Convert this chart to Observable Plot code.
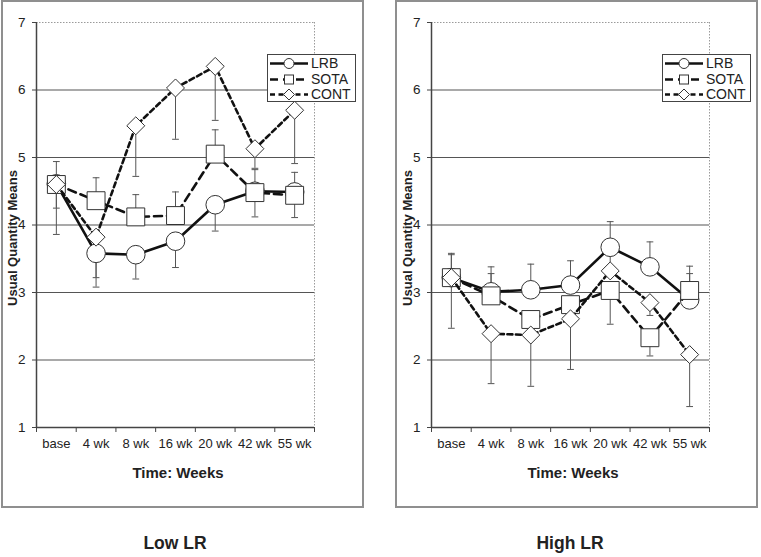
<!DOCTYPE html>
<html><head><meta charset="utf-8">
<script src="https://cdn.jsdelivr.net/npm/d3@7"></script>
<script src="https://cdn.jsdelivr.net/npm/@observablehq/plot@0.6"></script>
<style>
body{margin:0;background:#fff;font-family:"Liberation Sans",Arial,sans-serif;color:#222;}
#wrap{position:relative;width:761px;height:557px;overflow:hidden;background:#fff;}
.panel{position:absolute;top:0;width:359px;height:504px;border:2px solid #8f8f8f;box-sizing:content-box;}
.plot{position:absolute;top:0;}
.ytitle{position:absolute;font-weight:bold;font-size:13px;white-space:nowrap;transform:translate(-50%,-50%) rotate(-90deg);}
.xtitle{position:absolute;font-weight:bold;font-size:15px;white-space:nowrap;transform:translate(-50%,-50%);}
.ptitle{position:absolute;font-weight:bold;font-size:17.5px;white-space:nowrap;transform:translate(-50%,-50%);}
.legend{position:absolute;width:87px;height:46px;border:1px solid #444;background:#fff;}
.lrow{position:absolute;left:0;height:15px;width:87px;}
.lrow svg{position:absolute;left:2px;top:0;}
.lrow span{position:absolute;left:43px;top:0;font-size:14px;line-height:15px;}
</style></head>
<body><div id="wrap"></div>
<script>
const cats = ["base", "4 wk", "8 wk", "16 wk", "20 wk", "42 wk", "55 wk"];
const seriesNames = ["LRB", "SOTA", "CONT"];
const yTicks = [1, 2, 3, 4, 5, 6, 7];
const gridValues = [2, 3, 4, 5, 6];

// Low LR panel: means and error-bar end values
const lowLRB      = [4.61, 3.58, 3.56, 3.76, 4.30, 4.50, 4.49];
const lowLRBEnd   = [3.86, 3.08, 3.20, 3.37, 3.91, 4.12, 4.11];
const lowSOTA     = [4.60, 4.36, 4.12, 4.14, 5.05, 4.48, 4.44];
const lowSOTAEnd  = [4.94, 4.70, 4.45, 4.49, 5.41, 4.82, 4.78];
const lowCONT     = [4.60, 3.82, 5.47, 6.03, 6.35, 5.13, 5.70];
const lowCONTEnd  = [4.25, 3.22, 4.72, 5.27, 5.55, 4.84, 4.91];

// High LR panel
const highLRB     = [3.22, 3.01, 3.04, 3.11, 3.67, 3.38, 2.89];
const highLRBEnd  = [3.58, 3.38, 3.42, 3.47, 4.05, 3.75, 3.28];
const highSOTA    = [3.22, 2.95, 2.60, 2.82, 3.03, 2.33, 3.03];
const highSOTAEnd = [3.56, 3.28, 2.30, 2.55, 2.53, 2.06, 3.39];
const highCONT    = [3.22, 2.39, 2.37, 2.61, 3.32, 2.85, 2.08];
const highCONTEnd = [2.47, 1.65, 1.61, 1.86, 3.60, 2.66, 1.31];

const styles = {
  LRB:  {symbol: "circle",   r: 9.3,  dash: null},
  SOTA: {symbol: "square",   r: 10.1, dash: "8,5"},
  CONT: {symbol: "diamond2", r: 8.1,  dash: "5,3.5"}
};

function rows(name, means, ends) {
  return means.map((m, i) => ({series: name, cat: cats[i], x: i + 0.5, mean: m, end: ends[i]}));
}

function makePlot(groups) {
  const all = groups.flat();
  const marks = [
    Plot.ruleY(gridValues, {stroke: "#555", strokeWidth: 1.2}),
    Plot.ruleY([7], {stroke: "#9a9a9a", strokeDasharray: "1.5,1.5"}),
    Plot.ruleX([cats.length], {stroke: "#9a9a9a", strokeDasharray: "1.5,1.5"}),
    Plot.axisY({ticks: yTicks, tickSize: 4, tickPadding: 7, tickFormat: d => String(d), label: null, stroke: "#444", fontSize: 13.5}),
    Plot.axisX({ticks: d3.range(cats.length + 1), tickSize: 5, tickFormat: () => "", label: null, stroke: "#444"}),
    Plot.axisX({ticks: cats.map((c, i) => i + 0.5), tickSize: 0, tickPadding: 11, tickFormat: d => cats[Math.round(d - 0.5)], label: null, fontSize: 13}),
    Plot.ruleX([0], {stroke: "#444", strokeWidth: 1.5}),
    Plot.ruleY([1], {stroke: "#444", strokeWidth: 1.5}),
    Plot.ruleX(all, {x: "x", y1: "mean", y2: "end", stroke: "#555", strokeWidth: 1}),
    Plot.link(all, {x1: d => d.x - 0.085, x2: d => d.x + 0.085, y1: "end", y2: "end", stroke: "#555", strokeWidth: 1})
  ];
  for (const g of groups) {
    const s = styles[g[0].series];
    marks.push(Plot.line(g, {x: "x", y: "mean", stroke: "#111", strokeWidth: 2.6, strokeDasharray: s.dash || undefined}));
    marks.push(Plot.dot(g, {x: "x", y: "mean", symbol: s.symbol, r: s.r, fill: "white", stroke: "#333", strokeWidth: 1}));
  }
  return Plot.plot({
    width: 364, height: 507,
    marginLeft: 36, marginRight: 50, marginTop: 22, marginBottom: 80,
    x: {domain: [0, cats.length], axis: null, label: null},
    y: {domain: [1, 7], axis: null, label: null},
    style: {fontFamily: "'Liberation Sans', Arial, sans-serif", fontSize: "13px", color: "#222", background: "transparent", overflow: "visible"},
    marks
  });
}

function legendHTML(left, top) {
  const L = document.createElement("div");
  L.className = "legend";
  L.style.left = left + "px"; L.style.top = top + "px";
  const ys = [1, 16.5, 32];
  seriesNames.forEach((n, k) => {
    const s = styles[n];
    const row = document.createElement("div");
    row.className = "lrow"; row.style.top = ys[k] + "px";
    let marker;
    if (n === "LRB") marker = '<circle cx="19" cy="7.5" r="5" fill="#fff" stroke="#333"/>';
    else if (n === "SOTA") marker = '<rect x="14.5" y="3" width="9" height="9" fill="#fff" stroke="#333"/>';
    else marker = '<path d="M19,2 L24.5,7.5 L19,13 L13.5,7.5 Z" fill="#fff" stroke="#333"/>';
    row.innerHTML = `<svg width="38" height="15"><line x1="0" x2="38" y1="7.5" y2="7.5" stroke="#111" stroke-width="2.6" ${s.dash ? `stroke-dasharray="${s.dash}"` : ""}/>${marker}</svg><span>${n}</span>`;
    L.appendChild(row);
  });
  return L;
}

const wrap = document.getElementById("wrap");
function addDiv(cls, text, x, y) {
  const d = document.createElement("div");
  d.className = cls; d.textContent = text;
  d.style.left = x + "px"; d.style.top = y + "px";
  wrap.appendChild(d);
}

const panels = [
  {left: 1, plotLeft: 0, title: "Low LR",
   groups: [rows("LRB", lowLRB, lowLRBEnd), rows("SOTA", lowSOTA, lowSOTAEnd), rows("CONT", lowCONT, lowCONTEnd)]},
  {left: 395, plotLeft: 395, title: "High LR",
   groups: [rows("LRB", highLRB, highLRBEnd), rows("SOTA", highSOTA, highSOTAEnd), rows("CONT", highCONT, highCONTEnd)]}
];

for (const p of panels) {
  const fr = document.createElement("div");
  fr.className = "panel"; fr.style.left = p.left + "px";
  wrap.appendChild(fr);
  const svg = makePlot(p.groups);
  svg.classList.add("plot");
  svg.style.left = p.plotLeft + "px";
  wrap.appendChild(svg);
  addDiv("ytitle", "Usual Quantity Means", p.plotLeft + 11.5, 238);
  addDiv("xtitle", "Time: Weeks", p.plotLeft + 178, 472);
  addDiv("ptitle", p.title, p.plotLeft + 175, 543);
  wrap.appendChild(legendHTML(p.plotLeft + 267, 54));
}
</script></body></html>
